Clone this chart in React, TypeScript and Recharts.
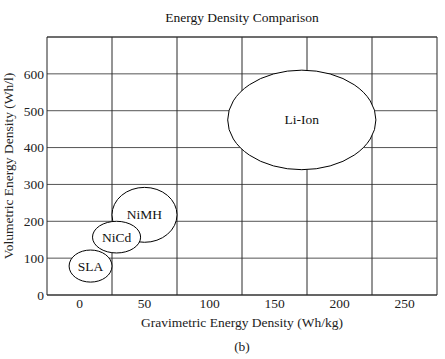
import React from "react";
import {
  ScatterChart,
  XAxis,
  YAxis,
  CartesianGrid,
  ReferenceLine,
  ReferenceArea,
  Scatter,
} from "recharts";

// battery chemistries and the extent of each ellipse (Wh/kg, Wh/l)
const batteries = ["Li-Ion", "NiMH", "NiCd", "SLA"];
const gravMin = [114, 25, 10, -8];
const gravMax = [228, 75, 47, 25];
const volMin = [340, 143, 114, 35];
const volMax = [610, 292, 200, 122];

const xTicks = [0, 50, 100, 150, 200, 250];
const yTicks = [0, 100, 200, 300, 400, 500, 600];
const xGrid = [25, 75, 125, 175, 225, 275];

const FONT = "'Liberation Serif', serif";
const FS = 13.5;

const EllipseShape = (props: any) => {
  const { x, y, width, height, name } = props;
  const cx = x + width / 2;
  const cy = y + height / 2;
  return (
    <g>
      <ellipse
        cx={cx}
        cy={cy}
        rx={width / 2}
        ry={height / 2}
        fill="#fff"
        stroke="#000"
        strokeWidth={1}
      />
      <text
        x={cx}
        y={cy}
        textAnchor="middle"
        dominantBaseline="central"
        fontFamily={FONT}
        fontSize={FS}
        fill="#111"
      >
        {name}
      </text>
    </g>
  );
};

export default function App() {
  return (
    <div
      style={{
        position: "absolute",
        left: 0,
        top: 0,
        width: 445,
        height: 359,
        background: "#fff",
        fontFamily: FONT,
      }}
    >
      <div
        style={{
          position: "absolute",
          top: 10,
          left: 0,
          width: 484,
          textAlign: "center",
          fontSize: FS,
          color: "#111",
        }}
      >
        Energy Density Comparison
      </div>
      <ScatterChart
        width={445}
        height={359}
        margin={{ top: 37, right: 8, bottom: 0, left: 0 }}
      >
        <CartesianGrid vertical={false} stroke="#555" strokeOpacity={1} />
        {xGrid.map((v) => (
          <ReferenceLine key={v} x={v} stroke="#2a2a2a" strokeWidth={1} />
        ))}
        <ReferenceLine y={700} stroke="#333" strokeWidth={1} />
        <XAxis
          type="number"
          dataKey="x"
          domain={[-25, 275]}
          ticks={xTicks}
          allowDataOverflow
          height={64}
          tickLine={false}
          tickSize={3}
          tickMargin={0}
          axisLine={{ stroke: "#222" }}
          tick={{ fontSize: FS, fill: "#222", fontFamily: FONT }}
          label={{
            value: "Gravimetric Energy Density (Wh/kg)",
            position: "insideTop",
            offset: 22,
            style: { fontSize: FS, fill: "#222", fontFamily: FONT },
          }}
        />
        <YAxis
          type="number"
          dataKey="y"
          domain={[0, 700]}
          ticks={yTicks}
          allowDataOverflow
          width={47}
          tickLine={false}
          tickSize={3}
          tickMargin={0}
          axisLine={{ stroke: "#222" }}
          tick={{ fontSize: FS, fill: "#222", fontFamily: FONT }}
          label={{
            value: "Volumetric Energy Density (Wh/l)",
            angle: -90,
            position: "insideLeft",
            offset: 8,
            style: {
              fontSize: FS,
              fill: "#222",
              fontFamily: FONT,
              textAnchor: "middle",
            },
          }}
        />
        <Scatter data={[]} isAnimationActive={false} />
        {batteries.map((name, i) => (
          <ReferenceArea
            key={name}
            x1={gravMin[i]}
            x2={gravMax[i]}
            y1={volMin[i]}
            y2={volMax[i]}
            ifOverflow="visible"
            zIndex={900}
            shape={(p: any) => <EllipseShape {...p} name={name} />}
          />
        ))}
      </ScatterChart>
      <div
        style={{
          position: "absolute",
          top: 339,
          left: 0,
          width: 484,
          textAlign: "center",
          fontSize: FS,
          color: "#222",
        }}
      >
        (b)
      </div>
    </div>
  );
}
